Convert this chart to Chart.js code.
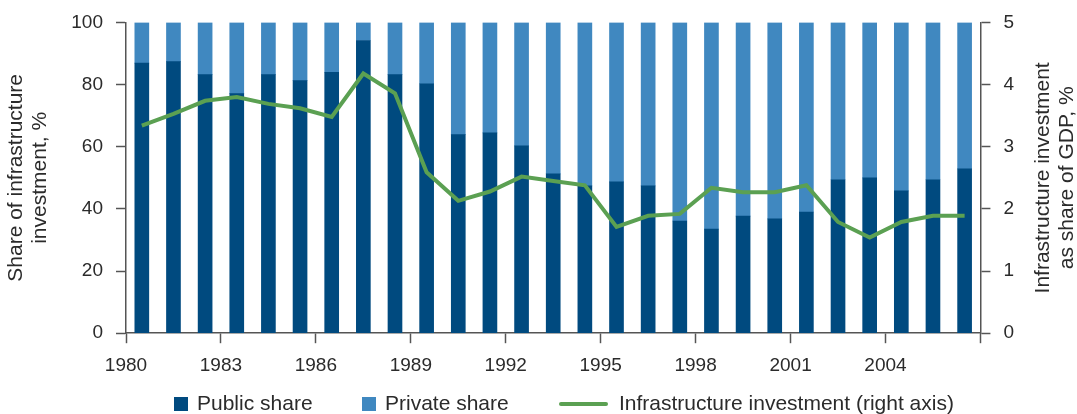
<!DOCTYPE html>
<html>
<head>
<meta charset="utf-8">
<script src="https://cdn.jsdelivr.net/npm/chart.js@4.4.1/dist/chart.umd.min.js"></script>
<style>
  html, body { margin: 0; padding: 0; background: #fff; }
  #wrap { width: 1077px; height: 414px; }
</style>
</head>
<body>
<div id="wrap"><canvas id="myChart" width="1077" height="414"></canvas></div>
<script>
// Data
const years = [1980, 1981, 1982, 1983, 1984, 1985, 1986, 1987, 1988, 1989, 1990, 1991, 1992, 1993,
  1994, 1995, 1996, 1997, 1998, 1999, 2000, 2001, 2002, 2003, 2004, 2005, 2006];
const publicShare = [86.9, 87.4, 83.2, 77.1, 83.2, 81.3, 84.0, 94.2, 83.2, 80.3, 63.9, 64.5, 60.3, 51.3,
  47.4, 48.7, 47.4, 36.1, 33.5, 37.7, 36.8, 39.0, 49.4, 50.0, 45.8, 49.4, 52.9];
const privateShare = [13.1, 12.6, 16.8, 22.9, 16.8, 18.7, 16.0, 5.8, 16.8, 19.7, 36.1, 35.5, 39.7, 48.7,
  52.6, 51.3, 52.6, 63.9, 66.5, 62.3, 63.2, 61.0, 50.6, 50.0, 54.2, 50.6, 47.1];
const investGDP = [3.34, 3.53, 3.74, 3.80, 3.69, 3.62, 3.48, 4.18, 3.86, 2.59, 2.13, 2.28, 2.52, 2.45,
  2.38, 1.71, 1.89, 1.92, 2.34, 2.27, 2.27, 2.38, 1.79, 1.54, 1.79, 1.89, 1.89];

const xFirst = 1980;
const xLast = 2007;
const xTickStep = 3;
const leftTitle = ['Share of infrastructure', 'investment, %'];
const rightTitle = ['Infrastructure investment', 'as share of GDP, %'];
const seriesLabels = ['Public share', 'Private share', 'Infrastructure investment (right axis)'];

const FONT = '"Liberation Sans", Arial, Helvetica, sans-serif';
const TXT = '#2b2b2b';
const AXIS = '#555';
const DARK = '#004a7f';
const LIGHT = '#4088c0';
const GREEN = '#5ba052';

// each bar sits in the middle of its year slot
function toPoints(vals) {
  return years.map((yr, i) => ({ x: yr + 0.5, y: vals[i] }));
}

// right axis title (reads bottom to top) + legend
const extras = {
  id: 'extras',
  afterDraw(chart) {
    const ctx = chart.ctx;
    const area = chart.chartArea;
    const cy = (area.top + area.bottom) / 2;
    ctx.save();
    ctx.font = '21px ' + FONT;
    ctx.fillStyle = TXT;
    ctx.textAlign = 'center';
    ctx.textBaseline = 'middle';
    rightTitle.forEach((line, i) => {
      ctx.save();
      ctx.translate(1043 + i * 24, cy);
      ctx.rotate(-Math.PI / 2);
      ctx.fillText(line, 0, 0);
      ctx.restore();
    });

    // legend
    const ly = 404;
    const items = [
      { ds: 1, x: 174, kind: 'box' },
      { ds: 2, x: 362, kind: 'box' },
      { ds: 0, x: 561, kind: 'line' }
    ];
    ctx.textAlign = 'left';
    items.forEach(it => {
      const ds = chart.data.datasets[it.ds];
      if (it.kind === 'box') {
        ctx.fillStyle = ds.backgroundColor;
        ctx.fillRect(it.x, ly - 7, 14, 14);
        ctx.fillStyle = TXT;
        ctx.fillText(ds.label, it.x + 23, ly);
      } else {
        ctx.strokeStyle = ds.borderColor;
        ctx.lineWidth = 4;
        ctx.lineCap = 'round';
        ctx.beginPath();
        ctx.moveTo(it.x, ly);
        ctx.lineTo(it.x + 45, ly);
        ctx.stroke();
        ctx.fillStyle = TXT;
        ctx.fillText(ds.label, it.x + 58, ly);
      }
    });
    ctx.restore();
  }
};

const ctx = document.getElementById('myChart').getContext('2d');
const myChart = new Chart(ctx, {
  type: 'bar',
  data: {
    datasets: [
      {
        type: 'line',
        label: seriesLabels[2],
        data: toPoints(investGDP),
        yAxisID: 'y1',
        borderColor: GREEN,
        backgroundColor: GREEN,
        borderWidth: 4,
        pointRadius: 0,
        tension: 0,
        order: 0
      },
      {
        label: seriesLabels[0],
        data: toPoints(publicShare),
        yAxisID: 'y',
        backgroundColor: DARK,
        barThickness: 14,
        order: 1
      },
      {
        label: seriesLabels[1],
        data: toPoints(privateShare),
        yAxisID: 'y',
        backgroundColor: LIGHT,
        barThickness: 14,
        order: 1
      }
    ]
  },
  options: {
    responsive: false,
    animation: false,
    layout: { padding: { left: 4, right: 50, top: 8, bottom: 26 } },
    plugins: {
      legend: { display: false },
      tooltip: { enabled: false }
    },
    scales: {
      x: {
        type: 'linear',
        stacked: true,
        offset: false,
        min: xFirst,
        max: xLast,
        grid: { offset: false, drawOnChartArea: false, drawTicks: true, tickLength: 10, tickColor: AXIS, tickWidth: 1.5 },
        border: { display: true, color: AXIS, width: 1.5 },
        ticks: {
          stepSize: xTickStep,
          padding: 11,
          color: TXT,
          font: { family: FONT, size: 19 },
          maxRotation: 0,
          autoSkip: false,
          callback: (v) => (v === xLast ? '' : String(v))
        }
      },
      y: {
        position: 'left',
        stacked: true,
        min: 0,
        max: 100,
        grid: { drawOnChartArea: false, drawTicks: true, tickLength: 10, tickColor: AXIS, tickWidth: 1.5 },
        border: { display: true, color: AXIS, width: 1.5 },
        ticks: { stepSize: 20, padding: 13, color: TXT, font: { family: FONT, size: 19, lineHeight: 1 } },
        title: {
          display: true,
          text: leftTitle,
          color: TXT,
          font: { family: FONT, size: 21, lineHeight: 1.15 },
          padding: { top: 0, bottom: 6 }
        }
      },
      y1: {
        position: 'right',
        min: 0,
        max: 5,
        grid: { drawOnChartArea: false, drawTicks: true, tickLength: 10, tickColor: AXIS, tickWidth: 1.5 },
        border: { display: true, color: AXIS, width: 1.5 },
        ticks: { stepSize: 1, padding: 13, color: TXT, font: { family: FONT, size: 19, lineHeight: 1 } }
      }
    }
  },
  plugins: [extras]
});
</script>
</body>
</html>
